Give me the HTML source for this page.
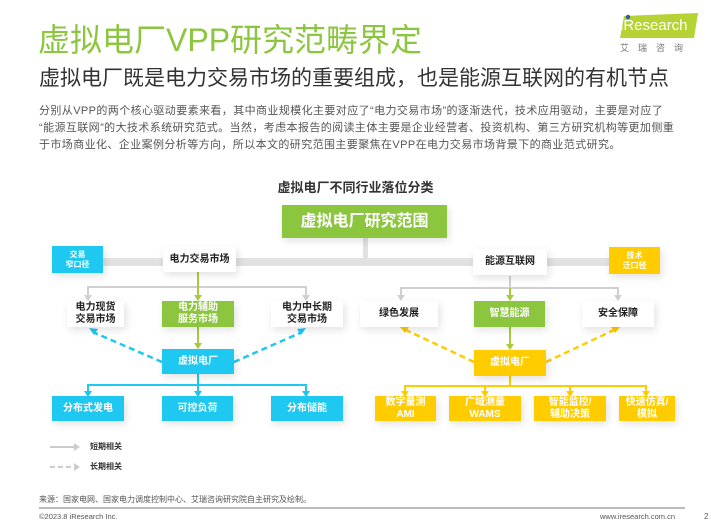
<!DOCTYPE html>
<html><head><meta charset="utf-8"><style>
*{margin:0;padding:0;box-sizing:border-box}
body{width:711px;height:528px;background:#fff;position:relative;overflow:hidden;font-family:"Liberation Sans","Noto Sans CJK SC",sans-serif}
.a{position:absolute}
.b{position:absolute;display:flex;align-items:center;justify-content:center;text-align:center;font-weight:bold;font-size:10px;line-height:12px;box-shadow:2px 3px 8px rgba(0,0,0,0.12)}
.w{background:#fff;color:#222}
.bl{background:#1ec8f0;color:#fff}
.gr{background:#8cc63f;color:#fff}
.ye{background:#ffcc00;color:#fff}
</style></head><body>
<div class="a" style="left:38px;top:21px;font-size:32px;color:#8cc63f;white-space:nowrap;line-height:38px">虚拟电厂VPP研究范畴界定</div>
<div class="a" style="left:39px;top:66px;font-size:21px;color:#333;white-space:nowrap;line-height:26px">虚拟电厂既是电力交易市场的重要组成，也是能源互联网的有机节点</div>
<div class="a" style="left:39px;top:103px;font-size:11px;color:#555;line-height:17px;white-space:nowrap;letter-spacing:0.4px">分别从VPP的两个核心驱动要素来看，其中商业规模化主要对应了“电力交易市场”的逐渐迭代，技术应用驱动，主要是对应了<br>“能源互联网”的大技术系统研究范式。当然，考虑本报告的阅读主体主要是企业经营者、投资机构、第三方研究机构等更加侧重<br>于市场商业化、企业案例分析等方向，所以本文的研究范围主要聚焦在VPP在电力交易市场背景下的商业范式研究。</div>
<svg class="a" style="left:620px;top:13px" width="80" height="26"><polygon points="4,3 78,0 74,25 0,25" fill="#b5d334"/><circle cx="8" cy="4" r="2.2" fill="#2a5aa8"/></svg>
<div class="a" style="left:620px;top:15px;font-size:15px;color:#fff;line-height:22px;white-space:nowrap">iResearch</div>
<div class="a" style="left:620px;top:41px;font-size:9px;color:#777;letter-spacing:9px;white-space:nowrap">艾瑞咨询</div>

<div class="a" style="left:0;top:177px;width:711px;text-align:center;font-size:13px;font-weight:bold;color:#333">虚拟电厂不同行业落位分类</div>

<svg class="a" style="left:0;top:0" width="711" height="528">
<rect x="52" y="258" width="600" height="8" fill="#e2e2e2"/>
<rect x="363" y="236" width="5" height="24" fill="#e2e2e2"/>
<g stroke="#d0d0d0" stroke-width="2" fill="none">
<path d="M88,298 V287 H306 V298"/><path d="M401,298 V288 H618 V298"/>
<path d="M510,276 V288"/>
</g>
<g fill="#d0d0d0"><path d="M84,295 h8 l-4,6z"/><path d="M302,295 h8 l-4,6z"/><path d="M397,295 h8 l-4,6z"/><path d="M614,295 h8 l-4,6z"/></g>
<g stroke="#a8cc3c" stroke-width="2"><path d="M198,272 V297"/><path d="M198,327 V345"/><path d="M510,288 V297"/><path d="M510,327 V346"/></g>
<g fill="#a8cc3c"><path d="M194,295 h8 l-4,6z"/><path d="M194,343 h8 l-4,6z"/><path d="M506,295 h8 l-4,6z"/><path d="M506,344 h8 l-4,6z"/></g>
<g stroke="#1ec8f0" stroke-width="2" fill="none"><path d="M198,374 V385"/><path d="M88,393 V385 H306 V393"/><path d="M198,385 V393"/>
<path d="M162,362 L95,333" stroke-dasharray="6,4" stroke-width="2.5"/><path d="M234,362 L300,333" stroke-dasharray="6,4" stroke-width="2.5"/></g>
<g fill="#1ec8f0"><path d="M84,391 h8 l-4,6z"/><path d="M194,391 h8 l-4,6z"/><path d="M302,391 h8 l-4,6z"/><path d="M89,328 l9,1 l-4,6z"/><path d="M306,328 l-9,1 l4,6z"/></g>
<g stroke="#ffcc00" stroke-width="2" fill="none"><path d="M510,376 V386"/><path d="M405,393 V386 H646 V393"/><path d="M485,386 V393"/><path d="M570,386 V393"/>
<path d="M474,362 L406,330" stroke-dasharray="6,4" stroke-width="2.5"/><path d="M546,362 L614,330" stroke-dasharray="6,4" stroke-width="2.5"/></g>
<g fill="#ffcc00"><path d="M401,391 h8 l-4,6z"/><path d="M481,391 h8 l-4,6z"/><path d="M566,391 h8 l-4,6z"/><path d="M642,391 h8 l-4,6z"/><path d="M400,327 l9,0 l-4,6z"/><path d="M620,327 l-9,0 l4,6z"/></g>
<path d="M50,447 H75" stroke="#ccc" stroke-width="2"/><path d="M74,443 l6,4 l-6,4z" fill="#ccc"/>
<path d="M50,467 H75" stroke="#ccc" stroke-width="2" stroke-dasharray="5,3"/><path d="M74,463 l6,4 l-6,4z" fill="#ccc"/>
<rect x="39" y="507" width="646" height="2" fill="#bbb"/>
</svg>

<div class="b gr" style="left:282px;top:205px;width:165px;height:33px;font-size:16px">虚拟电厂研究范围</div>
<div class="b bl" style="left:52px;top:246px;width:51px;height:27px;font-size:8px;line-height:10px">交易<br>窄口径</div>
<div class="b w" style="left:163px;top:247px;width:73px;height:25px">电力交易市场</div>
<div class="b w" style="left:473px;top:249px;width:74px;height:26px">能源互联网</div>
<div class="b ye" style="left:609px;top:247px;width:51px;height:27px;font-size:8px;line-height:10px">技术<br>泛口径</div>

<div class="b w" style="left:67px;top:301px;width:57px;height:26px">电力现货<br>交易市场</div>
<div class="b gr" style="left:162px;top:301px;width:72px;height:26px">电力辅助<br>服务市场</div>
<div class="b w" style="left:271px;top:301px;width:72px;height:26px">电力中长期<br>交易市场</div>
<div class="b bl" style="left:162px;top:349px;width:72px;height:25px">虚拟电厂</div>
<div class="b bl" style="left:52px;top:396px;width:72px;height:25px">分布式发电</div>
<div class="b bl" style="left:162px;top:396px;width:71px;height:25px">可控负荷</div>
<div class="b bl" style="left:271px;top:396px;width:72px;height:25px">分布储能</div>

<div class="b w" style="left:360px;top:301px;width:78px;height:26px">绿色发展</div>
<div class="b gr" style="left:474px;top:301px;width:71px;height:26px">智慧能源</div>
<div class="b w" style="left:582px;top:301px;width:72px;height:26px">安全保障</div>
<div class="b ye" style="left:474px;top:350px;width:72px;height:26px">虚拟电厂</div>
<div class="b ye" style="left:375px;top:396px;width:61px;height:25px">数字量测<br>AMI</div>
<div class="b ye" style="left:449px;top:396px;width:72px;height:25px">广域测量<br>WAMS</div>
<div class="b ye" style="left:534px;top:396px;width:72px;height:25px">智能监控/<br>辅助决策</div>
<div class="b ye" style="left:619px;top:396px;width:56px;height:25px">快速仿真/<br>模拟</div>

<div class="a" style="left:90px;top:441px;font-size:8px;font-weight:bold;color:#333">短期相关</div>
<div class="a" style="left:90px;top:461px;font-size:8px;font-weight:bold;color:#333">长期相关</div>
<div class="a" style="left:39px;top:494px;font-size:8px;color:#555">来源：国家电网、国家电力调度控制中心、艾瑞咨询研究院自主研究及绘制。</div>
<div class="a" style="left:39px;top:512px;font-size:7.5px;color:#555">©2023.8 iResearch Inc.</div>
<div class="a" style="left:600px;top:512px;font-size:7.5px;color:#555">www.iresearch.com.cn</div>
<div class="a" style="left:704px;top:512px;font-size:8px;color:#555">2</div>
</body></html>
